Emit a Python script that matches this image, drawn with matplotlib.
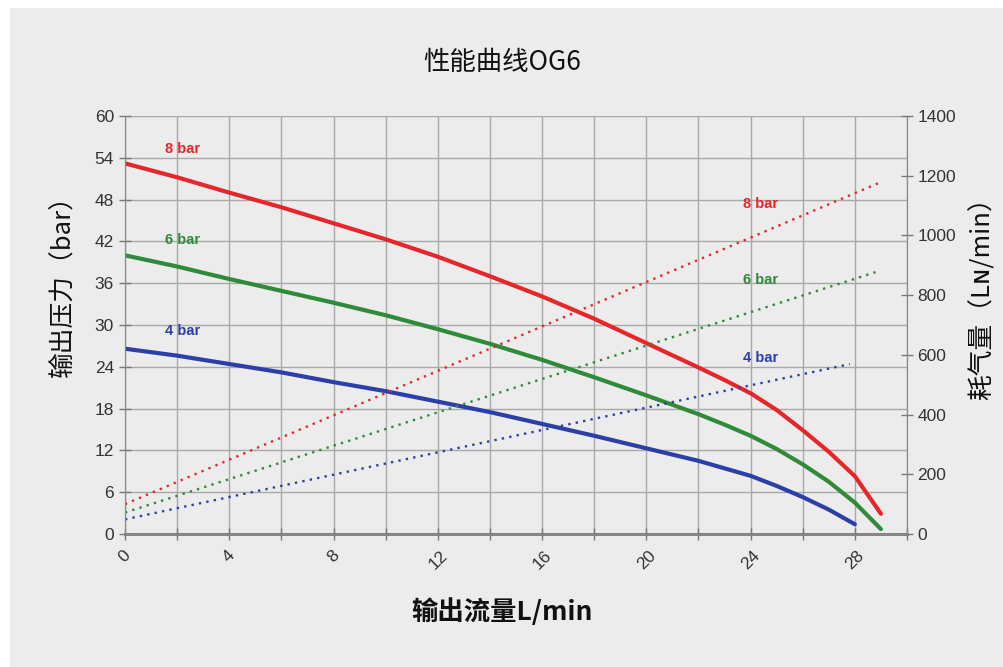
#!/usr/bin/env python3

import matplotlib
matplotlib.use('Agg')
import matplotlib.pyplot as plt
from matplotlib.patches import Rectangle


# Datos: caudal (L/min) vs presión de salida (bar)
flujo = [0, 2, 4, 6, 8, 10, 12, 14, 16, 18, 20, 22, 23, 24, 25, 26, 27, 28, 29]
presion_8 = [53.2, 51.2, 49.0, 46.9, 44.6, 42.3, 39.8, 37.0, 34.1, 30.9, 27.4, 23.9, 22.1, 20.2, 17.8, 14.9, 11.8, 8.3, 2.9]
presion_6 = [40.0, 38.4, 36.6, 34.9, 33.2, 31.4, 29.4, 27.3, 25.0, 22.5, 19.9, 17.2, 15.7, 14.1, 12.2, 10.0, 7.5, 4.5, 0.7]
flujo_4 = [0, 2, 4, 6, 8, 10, 12, 14, 16, 18, 20, 22, 24, 25, 26, 27, 28]
presion_4 = [26.6, 25.6, 24.4, 23.2, 21.8, 20.5, 19.0, 17.5, 15.8, 14.1, 12.3, 10.5, 8.35, 6.9, 5.3, 3.5, 1.4]

# Consumo de aire (LN/min), eje derecho
flujo_aire_8 = [0, 28.9]
aire_8 = [100, 1175]
flujo_aire_6 = [0, 28.9]
aire_6 = [72, 880]
flujo_aire_4 = [0, 27.8]
aire_4 = [49, 569]

x_ticks = list(range(0, 31, 2))
x_labels = [str(t) if t % 4 == 0 else '' for t in x_ticks]
y_ticks = list(range(0, 61, 6))
y2_ticks = list(range(0, 1401, 200))

rojo = '#e5262b'
verde = '#2f8a3a'
azul = '#2c3fa6'
fondo = '#ececec'
cjk = ['Noto Sans CJK SC', 'DejaVu Sans']

plt.rcParams['font.family'] = ['Liberation Sans', 'DejaVu Sans']

fig = plt.figure(figsize=(10.04, 6.67), dpi=100, facecolor='white')
fig.patches.append(Rectangle((10 / 1004, 0), 1, 1 - 8 / 667, transform=fig.transFigure,
                             facecolor=fondo, edgecolor='none', zorder=-10))

ax = fig.add_axes([125 / 1004, 1 - 534 / 667, 782 / 1004, 418 / 667])
ax.set_facecolor(fondo)
ax2 = ax.twinx()

# Curvas de presión
ax.plot(flujo, presion_8, color=rojo, lw=3, solid_capstyle='round', solid_joinstyle='round', zorder=5)
ax.plot(flujo, presion_6, color=verde, lw=3, solid_capstyle='round', solid_joinstyle='round', zorder=5)
ax.plot(flujo_4, presion_4, color=azul, lw=3, solid_capstyle='round', solid_joinstyle='round', zorder=5)

# Consumo de aire (punteado)
ax2.plot(flujo_aire_8, aire_8, color=rojo, lw=1.7, ls=(0, (1, 2.2)))
ax2.plot(flujo_aire_6, aire_6, color=verde, lw=1.7, ls=(0, (1, 2.2)))
ax2.plot(flujo_aire_4, aire_4, color=azul, lw=1.7, ls=(0, (1, 2.2)))

ax.set_xlim(0, 30)
ax.set_ylim(0, 60)
ax2.set_ylim(0, 1400)

ax.set_xticks(x_ticks)
ax.set_xticklabels(x_labels, rotation=45, ha='center', fontsize=12.5, color='#333333')
ax.set_yticks(y_ticks)
ax.set_yticklabels([str(t) for t in y_ticks], fontsize=12.5, color='#333333')
ax2.set_yticks(y2_ticks)
ax2.set_yticklabels([str(t) for t in y2_ticks], fontsize=12.5, color='#333333')

ax.grid(True, color='#a8a8a8', lw=1)
ax.set_axisbelow(True)
for a in (ax, ax2):
    a.tick_params(direction='inout', length=8, width=1, color='#777777')
    for s in a.spines.values():
        s.set_color('#8a8a8a')
    a.spines['top'].set_visible(False)
ax.spines['bottom'].set_linewidth(2)
ax.spines['bottom'].set_color('#777777')
ax.tick_params(axis='y', pad=4)
ax.tick_params(axis='x', pad=6)

# Etiquetas de las curvas
ax.text(2.2, 55.3, '8 bar', color=rojo, fontsize=10.5, fontweight='bold', ha='center', va='center')
ax.text(2.2, 42.2, '6 bar', color=verde, fontsize=10.5, fontweight='bold', ha='center', va='center')
ax.text(2.2, 29.2, '4 bar', color=azul, fontsize=10.5, fontweight='bold', ha='center', va='center')
ax.text(24.4, 47.3, '8 bar', color=rojo, fontsize=10.5, fontweight='bold', ha='center', va='center')
ax.text(24.4, 36.5, '6 bar', color=verde, fontsize=10.5, fontweight='bold', ha='center', va='center')
ax.text(24.4, 25.3, '4 bar', color=azul, fontsize=10.5, fontweight='bold', ha='center', va='center')

fig.text(0.5, 1 - 62 / 667, '性能曲线OG6', family=cjk, fontsize=19, fontweight='medium',
         ha='center', va='center', color='#111111')
fig.text(0.5, 1 - 612 / 667, '输出流量L/min', family=cjk, fontsize=19, fontweight='bold',
         ha='center', va='center', color='#111111')
fig.text(62 / 1004, 1 - 280 / 667, '输出压力（bar）', family=cjk, fontsize=18.5, rotation=90,
         ha='center', va='center', color='#111111')
fig.text(982 / 1004, 1 - 292 / 667, '耗气量（Lɴ/min）', family=cjk, fontsize=18.5, rotation=90,
         ha='center', va='center', color='#111111')

fig.savefig('out.png', dpi=100, facecolor='white')
